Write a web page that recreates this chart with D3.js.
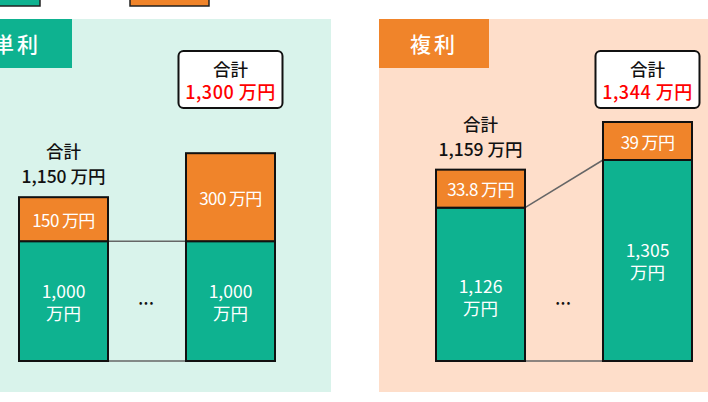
<!DOCTYPE html>
<html>
<head>
<meta charset="utf-8">
<script src="https://cdn.jsdelivr.net/npm/d3@7"></script>
<style>
  html, body { margin: 0; padding: 0; background: #fff; overflow: hidden; }
  text { font-family: "Noto Sans CJK JP", "Noto Sans", sans-serif; }
</style>
</head>
<body>
<svg id="chart" width="708" height="402"></svg>
<script>
// panel titles and the two bars in each panel (start, end)
const panels = ["単利", "複利"];
const barKeys = ["start", "end"];
// principal part of each bar (万円)
const principal = [[1000, 1000], [1126, 1305]];
// interest part of each bar (万円)
const interest = [[150, 300], [33.8, 39]];
// total shown above each bar
const totals = [[1150, 1300], [1159, 1344]];

const colors = {
  teal: "#0eb290",
  orange: "#f0842a",
  bg: ["#d9f3eb", "#fedeca"],
  titleBg: ["#0eb290", "#f0842a"],
  red: "#ff0000"
};

const svg = d3.select("#chart");
const fmt = d3.format(",");

// panel geometry
const panelX = [-38, 379];
const panelW = 369;
const panelTop = 19, panelBottom = 392;
const base = 361;

// value scales (diagram is not to scale: principal axis is truncated)
const yPrincipal = d3.scaleLinear().domain([550, 1305]).range([base, 160]);
const hInterest = d3.scaleLinear().domain([0, 300]).range([0, 88]);
const minInterestH = 38;

const x = d3.scaleBand().domain(barKeys).range([57, 313]).paddingInner(0.467).paddingOuter(0);

function label(g, cx, cy, str, size, fill, weight) {
  return g.append("text")
    .attr("x", cx).attr("y", cy)
    .attr("text-anchor", "middle").attr("dominant-baseline", "central")
    .attr("fill", fill).attr("font-size", size).attr("font-weight", weight || 400)
    .text(str);
}

// two-line label as a single text element
function label2(g, cx, cy, lines, size, fill, weight, gap) {
  const t = g.append("text")
    .attr("text-anchor", "middle")
    .attr("fill", fill).attr("font-size", size).attr("font-weight", weight || 400);
  lines.forEach(function(s, k) {
    t.append("tspan")
      .attr("x", cx)
      .attr("y", cy + (k - (lines.length - 1) / 2) * gap)
      .attr("dominant-baseline", "central")
      .text(s);
  });
  return t;
}

// cut-off legend swatches at the top edge
svg.append("rect").attr("x", -60).attr("y", -30).attr("width", 100).attr("height", 36)
  .attr("fill", colors.teal).attr("stroke", "#222").attr("stroke-width", 1.5);
svg.append("rect").attr("x", 130).attr("y", -30).attr("width", 79).attr("height", 36)
  .attr("fill", colors.orange).attr("stroke", "#222").attr("stroke-width", 1.5);

panels.forEach(function(title, p) {
  const g = svg.append("g").attr("transform", "translate(" + panelX[p] + ",0)");

  g.append("rect")
    .attr("x", 0).attr("y", panelTop)
    .attr("width", panelW).attr("height", panelBottom - panelTop)
    .attr("fill", colors.bg[p]);

  // title tab
  g.append("rect")
    .attr("x", 0).attr("y", panelTop)
    .attr("width", 110).attr("height", 49)
    .attr("fill", colors.titleBg[p]);
  label(g, 55, 43, title, 21, "#fff", 500).attr("letter-spacing", 3);

  const bars = barKeys.map(function(k, i) {
    const gTop = yPrincipal(principal[p][i]);
    const oh = Math.max(minInterestH, hInterest(interest[p][i]));
    return { key: k, x0: x(k), x1: x(k) + x.bandwidth(), gTop: gTop, oTop: gTop - oh,
             principal: principal[p][i], interest: interest[p][i], total: totals[p][i] };
  });

  // connector lines between bars
  g.append("line")
    .attr("x1", bars[0].x1).attr("y1", bars[0].gTop)
    .attr("x2", bars[1].x0).attr("y2", bars[1].gTop)
    .attr("stroke", "#666").attr("stroke-width", 1.5);
  g.append("line")
    .attr("x1", bars[0].x1).attr("y1", base)
    .attr("x2", bars[1].x0).attr("y2", base)
    .attr("stroke", "#666").attr("stroke-width", 1.5);

  // ellipsis between bars
  label(g, (bars[0].x1 + bars[1].x0) / 2, 302, "•••", 9, "#111", 700).attr("letter-spacing", 2);

  bars.forEach(function(b, i) {
    const w = b.x1 - b.x0;
    // principal
    g.append("rect")
      .attr("x", b.x0).attr("y", b.gTop)
      .attr("width", w).attr("height", base - b.gTop)
      .attr("fill", colors.teal).attr("stroke", "#111").attr("stroke-width", 2);
    // interest
    g.append("rect")
      .attr("x", b.x0).attr("y", b.oTop)
      .attr("width", w).attr("height", b.gTop - b.oTop)
      .attr("fill", colors.orange).attr("stroke", "#111").attr("stroke-width", 2);

    const cx = (b.x0 + b.x1) / 2;
    const gMid = (b.gTop + base) / 2 + (p === 1 && i === 0 ? 12 : 0);
    label2(g, cx, gMid, [fmt(b.principal), "万円"], 17.5, "#fff", 400, 22);

    label(g, cx, (b.oTop + b.gTop) / 2, fmt(b.interest) + " 万円", 17, "#fff")
      .attr("letter-spacing", -0.6);

    if (i === 0) {
      // plain total label above first bar
      label2(g, cx, b.oTop - 34, ["合計", fmt(b.total) + " 万円"], 17.5, "#111", 500, 25);
    } else {
      // callout box for final total
      g.append("rect")
        .attr("x", cx - 52).attr("y", 51)
        .attr("width", 104).attr("height", 57)
        .attr("rx", 5)
        .attr("fill", "#fff").attr("stroke", "#111").attr("stroke-width", 2);
      label(g, cx, 68, "合計", 17.5, "#111", 500);
      label(g, cx, 91, fmt(b.total) + " 万円", 18, colors.red, 500)
        .attr("letter-spacing", 0.5);
    }
  });
});
</script>
</body>
</html>
